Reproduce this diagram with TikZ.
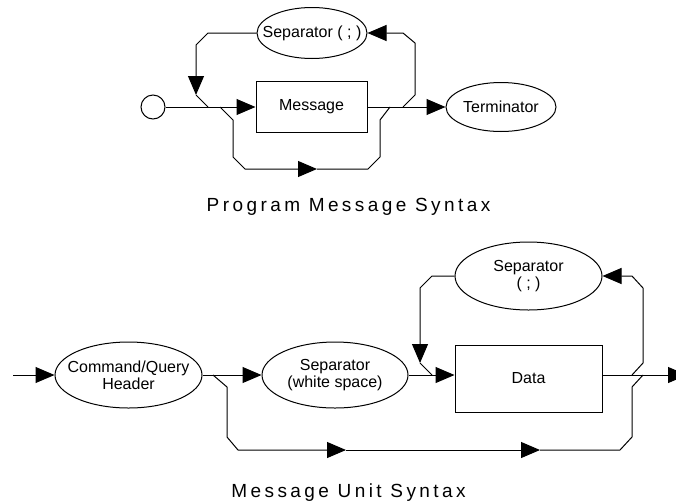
\documentclass[tikz,border=0pt]{standalone}
\usepackage{fontspec}
\setmainfont{Liberation Sans}
\newfontfamily\titlefont[LetterSpace=18]{Liberation Sans}
\usepackage{tikz}
\usetikzlibrary{arrows.meta}
\usetikzlibrary{shapes.geometric}
\tikzset{>={Triangle[length=19pt, width=16pt]}}
\tikzstyle{rail} = [-, line width=1pt]
\tikzstyle{term} = [ellipse, draw=black, line width=1pt, inner xsep=-60pt, inner ysep=0pt, align=center, font=\fontsize{16}{17}\selectfont]
\tikzstyle{nonterm} = [rectangle, draw=black, line width=1pt, inner sep=0pt, font=\fontsize{16}{17}\selectfont]
\tikzstyle{caption} = [anchor=base, inner sep=0pt, font=\titlefont\fontsize{19}{20}\selectfont]

\begin{document}
\begin{tikzpicture}[x=1pt, y=-1pt]
\useasboundingbox (0,0) rectangle (676,501);
% program message syntax
\node [circle, draw=black, line width=1pt, minimum size=24pt, inner sep=0pt] (start) at (153,107) {};
\node [nonterm, minimum width=111pt, minimum height=51pt] (msg) at (311.5,107) {Message};
\node [term, minimum width=110pt, minimum height=51pt] (sep1) at (312,33) {Separator ( ; )};
\node [term, minimum width=110pt, minimum height=49pt] (end) at (501,107) {Terminator};
\coordinate (split1) at (220,107);
\coordinate (join1) at (390,107);
\coordinate (loopin1) at (208,107);
\coordinate (loopout1) at (403,107);
\coordinate (tip1) at (196,95);
\coordinate (tip2) at (317,169);
\draw [rail, ->] (start) to (msg);
\draw [rail, ->] (msg) to (end);
\draw [rail, ->] (loopout1) -- (415,95) -- (415,43) -- (403,33) -- (sep1.east);
\draw [rail, ->] (sep1.west) -- (208,33) -- (196,45) -- (tip1);
\draw [rail] (tip1) -- (loopin1);
\draw [rail, ->] (split1) -- (233,120) -- (233,157) -- (245,169) -- (tip2);
\draw [rail] (tip2) -- (368,169) -- (380,157) -- (380,120) -- (join1);
\node [caption] (title1) at (348.5,211) {Program Message Syntax};
% message unit syntax
\node [term, minimum width=147pt, minimum height=66pt] (cmd) at (128.5,375) {Command/Query\\Header};
\node [term, minimum width=146pt, minimum height=66pt] (sepw) at (335,375) {Separator\\(white space)};
\node [nonterm, minimum width=147pt, minimum height=67pt] (data) at (528.5,378.5) {Data};
\node [term, minimum width=147pt, minimum height=68pt] (sep2) at (528.5,276) {Separator\\( ; )};
\coordinate (in) at (13,375);
\coordinate (out) at (687,375);
\coordinate (split2) at (213,375);
\coordinate (join2) at (643,375);
\coordinate (loopin2) at (432,375);
\coordinate (loopout2) at (632,375);
\coordinate (tip3) at (420,363);
\coordinate (tip4) at (346,450);
\coordinate (tip5) at (540,450);
\draw [rail, ->] (in) to (cmd.west);
\draw [rail, ->] (cmd.east) to (sepw.west);
\draw [rail, ->] (sepw.east) to (sepw.east -| data.west);
\draw [rail, ->] (data.east |- out) to (out);
\draw [rail, ->] (loopout2) -- (643,363) -- (643,288) -- (632,276) -- (sep2.east);
\draw [rail, ->] (sep2.west) -- (432,276) -- (420,288) -- (tip3);
\draw [rail] (tip3) -- (loopin2);
\draw [rail, ->] (split2) -- (227,387) -- (227,437) -- (238,450) -- (tip4);
\draw [rail, ->] (tip4) -- (tip5);
\draw [rail] (tip5) -- (620,450) -- (632,437) -- (632,387) -- (join2);
\node [caption] (title2) at (348.5,497) {Message Unit Syntax};
\end{tikzpicture}
\end{document}
